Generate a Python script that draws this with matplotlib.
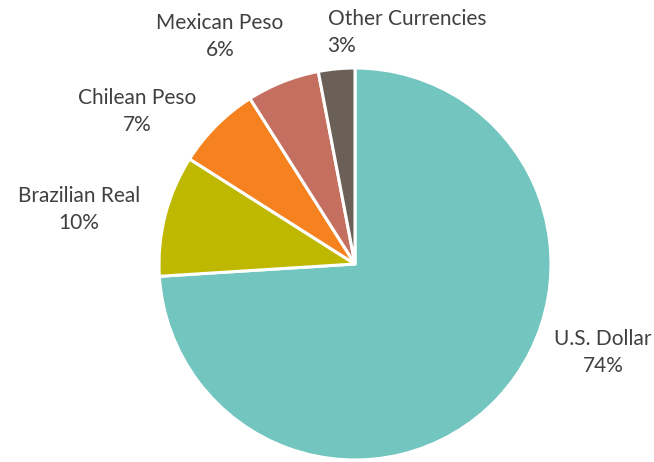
import matplotlib
matplotlib.use("Agg")
import matplotlib.pyplot as plt
import numpy as np

plt.rcParams['font.family'] = ['Lato', 'DejaVu Sans']

currencies = ["U.S. Dollar", "Brazilian Real", "Chilean Peso", "Mexican Peso", "Other Currencies"]
shares = [74, 10, 7, 6, 3]
colors = ["#72C6BF", "#BFB800", "#F5821F", "#C46F60", "#6A6057"]

# label anchor offsets (in pie radius units) and alignment
label_pos = [(1.265, -0.45, "center"), (-1.41, 0.28, "center"), (-1.11, 0.78, "center"),
             (-0.69, 1.16, "center"), (-0.14, 1.18, "left")]

fig = plt.figure(figsize=(6.54, 4.62), dpi=100)
W, H = 654, 462
cx, cy, r = 355, 264, 196
ax = fig.add_axes([(cx - r) / W, (H - cy - r) / H, 2 * r / W, 2 * r / H])

ax.pie(shares, colors=colors, startangle=90, counterclock=False, radius=1,
       wedgeprops=dict(edgecolor="white", linewidth=2.2))
ax.set_xlim(-1, 1)
ax.set_ylim(-1, 1)
ax.set_aspect("equal")
ax.axis("off")

for name, val, (x, y, ha) in zip(currencies, shares, label_pos):
    ax.text(x, y, f"{name}\n{val}%", ha=ha, va="center", fontsize=15,
            color="#404040", linespacing=1.45, multialignment=ha, clip_on=False)

fig.savefig("out.png", dpi=100)
